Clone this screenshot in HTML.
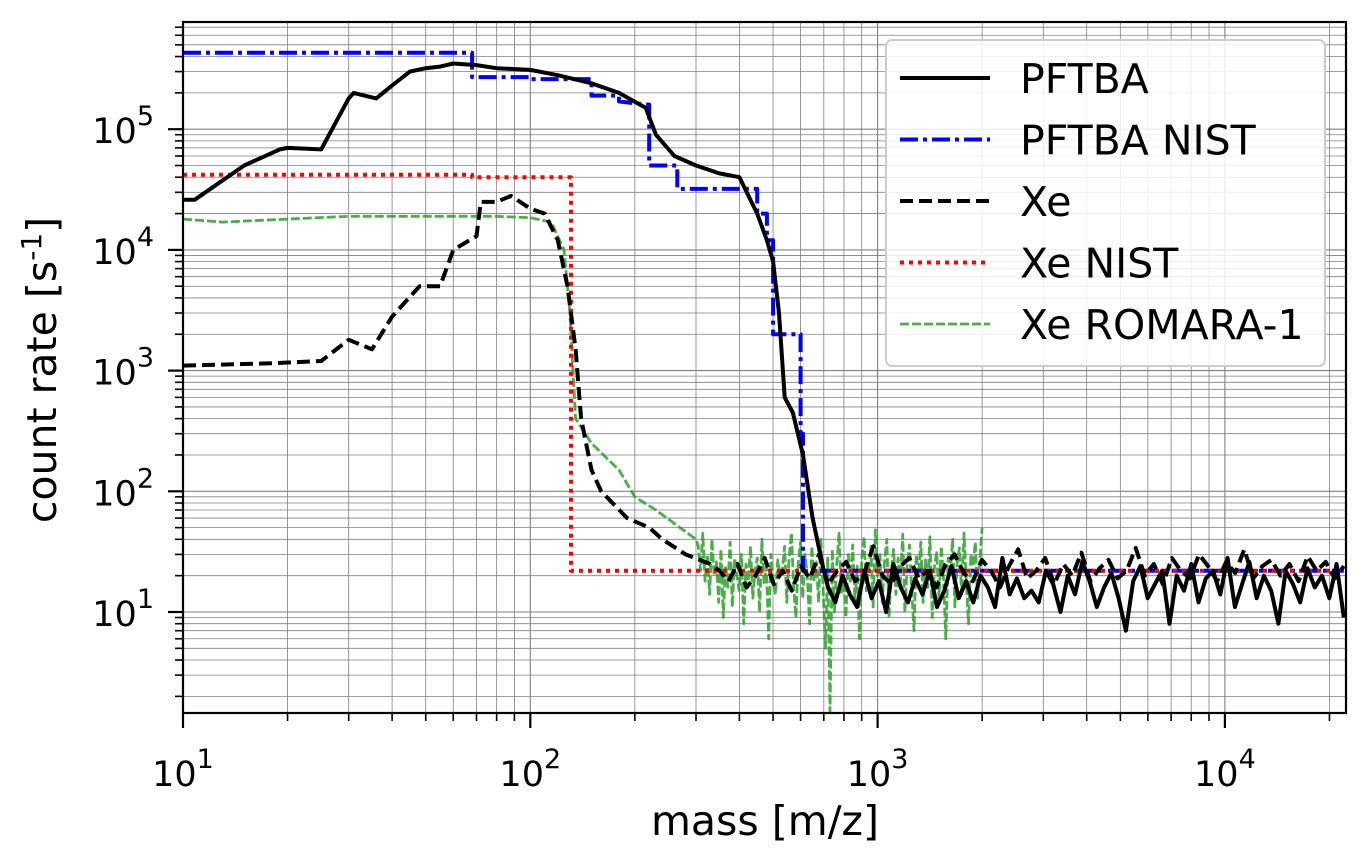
<!DOCTYPE html>
<html><head><meta charset="utf-8"><style>
html,body{margin:0;padding:0;background:#fff}
svg{display:block;font-family:"DejaVu Sans","Liberation Sans",sans-serif}
</style></head><body>
<svg id="chart" width="1367" height="859" viewBox="0 0 1367 859" xmlns="http://www.w3.org/2000/svg">
<g id="grid"></g>
<g id="series"></g>
<g id="axes"></g>
<g id="legend"></g>
</svg>
<script>
// ---- data ----
const pftbaMass = [10,10.8,15,19,20,25,30,31,36,40,45,50,55,60,70,80,100,120,150,180,215,230,260,300,350,400,450,480,500,520,540,570,610,650,700,720];
const pftbaRate = [2.6e4,2.6e4,5e4,6.8e4,7e4,6.8e4,1.8e5,2e5,1.8e5,2.3e5,3e5,3.2e5,3.3e5,3.5e5,3.4e5,3.2e5,3.1e5,2.8e5,2.4e5,2e5,1.5e5,9e4,6e4,5e4,4.3e4,4e4,2e4,1.2e4,8e3,3e3,6e2,4.5e2,2e2,6e1,2.2e1,1.6e1];
const pftbaTailRange = [720, 22000];
const pftbaTail = [12,20,14,11,22,13,18,10,25,16,12,19,14,22,11,15,24,13,18,12,20,16,11,28,14,19,13,15,12,22,17,10,20,14,26,18,11,16,21,13,7,18,24,13,17,22,8,20,15,25,12,19,22,14,28,11,17,26,13,20,15,8,22,17,12,23,16,20,13,25,9];
const nistPMass = [10,68,68,100,100,150,150,180,180,215,220,220,265,265,450,450,480,480,500,500,590,600,600,610,610,22000];
const nistPRate = [4.3e5,4.3e5,2.7e5,2.7e5,2.6e5,2.6e5,1.9e5,1.9e5,1.7e5,1.6e5,1.6e5,5e4,5e4,3.2e4,3.2e4,2e4,2e4,1.2e4,1.2e4,2e3,2e3,2e3,3e2,3e2,2.2e1,2.2e1];
const xeMass = [10,18,25,30,35,40,48,55,60,70,72,80,88,100,110,120,128,135,140,150,160,190,220,240,280,330];
const xeRate = [1.1e3,1.15e3,1.2e3,1.8e3,1.5e3,2.8e3,5e3,5e3,1e4,1.3e4,2.5e4,2.5e4,2.8e4,2.2e4,2e4,1.2e4,5e3,1.5e3,4e2,1.5e2,1e2,6e1,5e1,4e1,3e1,2.5e1];
const xeTailRange = [330, 22000];
const xeTail = [22,18,25,16,20,28,17,22,15,24,19,30,17,22,26,18,21,35,20,17,24,28,19,22,16,25,30,21,18,27,22,16,24,33,19,22,28,17,25,20,31,18,23,27,19,22,34,20,25,17,28,22,19,30,24,18,26,21,33,19,24,27,20,25,18,29,22,26,19,24];
const nistXMass = [10,68,68,128,131,131,22000];
const nistXRate = [4.2e4,4.2e4,4e4,4e4,4e4,2.2e1,2.2e1];
const romMass = [10,13,20,30,50,80,100,115,125,130,135,150,180,200,230,300];
const romRate = [1.8e4,1.7e4,1.8e4,1.9e4,1.9e4,1.9e4,1.85e4,1.7e4,1e4,3e3,4e2,2.5e2,1.5e2,9e1,7e1,4e1];
const romTailRange = [300, 2000];
const romTail = [35,22,45,18,30,14,40,20,26,12,33,9,24,16,38,11,28,20,15,30,8,25,18,35,13,22,28,10,40,17,24,6,30,19,14,27,20,22,35,12,28,45,16,9,25,38,13,30,20,8,35,18,26,12,40,15,5,28,1.5,33,10,25,45,14,20,9,30,18,36,12,24,6,28,42,15,22,35,11,48,20,
 30,12,26,40,9,22,33,14,28,18,44,10,25,36,15,7,30,20,38,12,27,16,42,9,24,31,13,35,19,6,28,22,40,11,26,34,14,45,18,8,30,24,38,13,27,50];

// ---- axes ----
const X0=183,X1=1346,Y0=22,Y1=713;
const dec=347.3, xLogMin=1;
function xs(m){return X0+(Math.log10(m)-xLogMin)*dec;}
const yDec=120.7;
function ys(v){return 612-(Math.log10(v)-1)*yDec;}
const NS='http://www.w3.org/2000/svg';
function mk(tag,attrs,parent){const e=document.createElementNS(NS,tag);for(const k in attrs)e.setAttribute(k,attrs[k]);parent.appendChild(e);return e;}
const grid=document.getElementById('grid'),axes=document.getElementById('axes'),ser=document.getElementById('series'),leg=document.getElementById('legend');

for(let d=1;d<=4;d++){for(let k=1;k<10;k++){const x=xs(k*Math.pow(10,d));if(x>X1)continue;
 const l=mk('line',{x1:x,x2:x,y1:Y0,y2:Y1,stroke:'#808080','stroke-width':k==1?1.1:0.8},grid);
 }}
for(let d=0;d<=5;d++){for(let k=1;k<10;k++){const y=ys(k*Math.pow(10,d));if(y<Y0||y>Y1)continue;
 const l=mk('line',{x1:X0,x2:X1,y1:y,y2:y,stroke:'#808080','stroke-width':k==1?1.1:0.8},grid);
 }}

function tailPts(range,vals){const a=Math.log10(range[0]),b=Math.log10(range[1]);return vals.map((v,i)=>[Math.pow(10,a+(b-a)*(i+1)/vals.length),v]);}
function path(ms,vs,extra){let pts=ms.map((m,i)=>[m,vs[i]]);if(extra)pts=pts.concat(extra);
 return pts.map((p,i)=>(i?'L':'M')+xs(p[0]).toFixed(1)+','+ys(p[1]).toFixed(1)).join(' ');}
const clip=mk('clipPath',{id:'pc'},ser);mk('rect',{x:X0,y:Y0,width:X1-X0,height:Y1-Y0},clip);
function draw(name,d,st){const p=mk('path',Object.assign({d:d,fill:'none','clip-path':'url(#pc)','stroke-linejoin':'round'},st),ser);
 }
const sPF={stroke:'#000','stroke-width':4};
const sNP={stroke:'#0000ff','stroke-width':4,'stroke-dasharray':'18 5 4 5'};
const sXE={stroke:'#000','stroke-width':4,'stroke-dasharray':'13 6'};
const sNX={stroke:'#ff0000','stroke-width':4,'stroke-dasharray':'4 5'};
const sRO={stroke:'#2ca02c','stroke-opacity':0.85,'stroke-width':2.8,'stroke-dasharray':'9 3'};
draw('romara-line',path(romMass,romRate,tailPts(romTailRange,romTail)),sRO);
draw('pftba-nist-line',path(nistPMass,nistPRate),sNP);
draw('xe-nist-line',path(nistXMass,nistXRate),sNX);
draw('xe-line',path(xeMass,xeRate,tailPts(xeTailRange,xeTail)),sXE);
draw('pftba-line',path(pftbaMass,pftbaRate,tailPts(pftbaTailRange,pftbaTail)),sPF);

const fr=mk('rect',{x:X0,y:Y0,width:X1-X0,height:Y1-Y0,fill:'none',stroke:'#000','stroke-width':2.2},axes);

const xTickExp=[1,2,3,4];
xTickExp.forEach(e=>{const x=xs(Math.pow(10,e));mk('line',{x1:x,x2:x,y1:Y1,y2:Y1+15,stroke:'#000','stroke-width':2.2},axes);
 const t=mk('text',{x:x,y:786,'text-anchor':'middle','font-size':35},axes);t.innerHTML='10<tspan dy="-18" font-size="27">'+e+'</tspan>';
 });
for(let d=1;d<=4;d++)for(let k=2;k<10;k++){const x=xs(k*Math.pow(10,d));if(x>X1)continue;mk('line',{x1:x,x2:x,y1:Y1,y2:Y1+8,stroke:'#000','stroke-width':1.6},axes);}
const yTickExp=[1,2,3,4,5];
yTickExp.forEach(e=>{const y=ys(Math.pow(10,e));mk('line',{x1:X0-15,x2:X0,y1:y,y2:y,stroke:'#000','stroke-width':2.2},axes);
 const t=mk('text',{x:X0-29,y:y+14,'text-anchor':'end','font-size':35},axes);t.innerHTML='10<tspan dy="-18" font-size="27">'+e+'</tspan>';
 });
for(let d=0;d<=5;d++)for(let k=2;k<10;k++){const y=ys(k*Math.pow(10,d));if(y<Y0||y>Y1)continue;mk('line',{x1:X0-8,x2:X0,y1:y,y2:y,stroke:'#000','stroke-width':1.6},axes);}
const xt=mk('text',{x:765,y:835,'text-anchor':'middle','font-size':41},axes);xt.textContent='mass [m/z]';

const yt=mk('text',{x:0,y:0,'text-anchor':'middle','font-size':41,transform:'translate(56,370) rotate(-90)'},axes);
yt.innerHTML='count rate [s<tspan dy="-15" font-size="28">-1</tspan><tspan dy="15">]</tspan>';


const lb=mk('rect',{x:886,y:40,width:439,height:326,rx:6,fill:'#fff','fill-opacity':0.85,stroke:'#ccc','stroke-width':2},leg);

const legNames=['PFTBA','PFTBA NIST','Xe','Xe NIST','Xe ROMARA-1'];
const legStyles=[sPF,sNP,sXE,sNX,sRO];
legNames.forEach((n,i)=>{const y=78+i*61.5;
 const g=mk('g',{},leg);
 mk('line',Object.assign({x1:900,x2:990,y1:y,y2:y},legStyles[i]),g);
 const t=mk('text',{x:1020,y:y+15,'font-size':41},g);t.textContent=n;});
</script>
</body></html>
